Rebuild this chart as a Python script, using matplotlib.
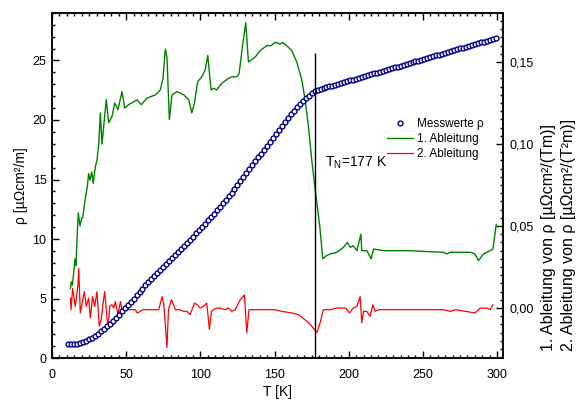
import numpy as np
import matplotlib
matplotlib.use("Agg")
import matplotlib.pyplot as plt
from matplotlib.ticker import MultipleLocator, FuncFormatter

plt.rcParams['font.family'] = ['Liberation Sans', 'DejaVu Sans']
plt.rcParams['mathtext.fontset'] = 'custom'
plt.rcParams['mathtext.rm'] = 'Liberation Sans'

# measured resistivity rho(T), every 2 K
T_rho = np.arange(11, 300, 2)
rho = [
    1.15, 1.16, 1.18, 1.22, 1.28, 1.36, 1.46, 1.58, 1.72, 1.88,
    2.05, 2.24, 2.44, 2.66, 2.90, 3.14, 3.40, 3.66, 3.92, 4.18,
    4.45, 4.72, 5.00, 5.28, 5.56, 5.84, 6.12, 6.40, 6.67, 6.93,
    7.18, 7.43, 7.68, 7.93, 8.18, 8.43, 8.68, 8.93, 9.18, 9.43,
    9.69, 9.95, 10.21, 10.48, 10.75, 11.02, 11.30, 11.58, 11.86, 12.14,
    12.43, 12.72, 13.01, 13.30, 13.60, 13.88, 14.20, 14.53, 14.86, 15.20,
    15.53, 15.86, 16.20, 16.53, 16.86, 17.18, 17.50, 17.83, 18.16, 18.50,
    18.84, 19.18, 19.52, 19.86, 20.18, 20.49, 20.79, 21.08, 21.35, 21.60,
    21.83, 22.04, 22.23, 22.40, 22.52, 22.60, 22.68, 22.75, 22.82, 22.89,
    22.96, 23.04, 23.11, 23.18, 23.25, 23.33, 23.40, 23.47, 23.54, 23.62,
    23.69, 23.76, 23.83, 23.91, 23.98, 24.05, 24.12, 24.20, 24.27, 24.34,
    24.41, 24.49, 24.56, 24.63, 24.70, 24.78, 24.85, 24.92, 24.99, 25.07,
    25.14, 25.21, 25.28, 25.36, 25.43, 25.50, 25.57, 25.65, 25.72, 25.79,
    25.86, 25.94, 26.01, 26.08, 26.15, 26.23, 26.30, 26.37, 26.44, 26.52,
    26.59, 26.66, 26.73, 26.81, 26.88,
]

# first derivative (right axis)
T_d1 = [12.4, 13.0, 13.8, 15.5, 16.2, 17.0, 17.7, 18.9, 20.0, 20.7,
        22.3, 23.8, 24.7, 25.6, 26.8, 27.8, 29.2, 30.3, 31.5, 32.6,
        33.7, 36.6, 38.2, 40.5, 42.3, 44.5, 47.2, 49.0, 51.7, 57.3,
        60.2, 64.0, 69.7, 73.0, 74.8, 76.4, 77.5, 79.1, 80.9, 84.3,
        88.8, 92.2, 94.2, 96.0, 98.2, 101.0, 103.2, 105.0, 107.2, 109.0,
        111.0, 114.4, 118.9, 121.2, 124.5, 126.1, 128.3, 130.6, 132.4, 136.9,
        140.3, 144.8, 147.7, 150.4, 153.7, 155.5, 159.3, 161.6, 165.0, 168.4,
        170.6, 172.8, 175.1, 177.3, 180.7, 182.5, 185.0, 187.5, 192.0, 196.4,
        199.1, 201.0, 203.0, 205.5, 208.2, 208.8, 212.2, 215.1, 216.7, 223.4,
        240.0, 263.9, 266.0, 268.4, 281.9, 285.0, 287.5, 290.8, 295.3, 297.2,
        299.4]
d1 = [0.012, 0.016, 0.014, 0.030, 0.026, 0.045, 0.058, 0.050, 0.055, 0.055,
      0.066, 0.074, 0.082, 0.078, 0.083, 0.076, 0.086, 0.090, 0.100, 0.119,
      0.100, 0.127, 0.113, 0.117, 0.125, 0.121, 0.132, 0.122, 0.124, 0.127,
      0.124, 0.128, 0.130, 0.133, 0.140, 0.158, 0.153, 0.115, 0.130, 0.132,
      0.130, 0.127, 0.119, 0.125, 0.138, 0.141, 0.145, 0.154, 0.133, 0.134,
      0.133, 0.137, 0.140, 0.141, 0.141, 0.143, 0.159, 0.174, 0.150, 0.153,
      0.157, 0.160, 0.160, 0.162, 0.161, 0.162, 0.159, 0.157, 0.150, 0.139,
      0.127, 0.111, 0.090, 0.073, 0.048, 0.030, 0.032, 0.033, 0.034, 0.037,
      0.040, 0.037, 0.038, 0.035, 0.045, 0.035, 0.035, 0.030, 0.036, 0.035,
      0.035, 0.034, 0.033, 0.034, 0.034, 0.033, 0.029, 0.033, 0.035, 0.036,
      0.051]

# second derivative (right axis)
T_d2 = [12.4, 12.8, 13.9, 15.7, 17.5, 18.0, 19.1, 20.7, 21.8, 23.1,
        24.7, 25.8, 27.4, 28.8, 30.3, 31.9, 33.2, 34.3, 35.5, 36.6,
        37.8, 38.9, 40.3, 41.6, 42.7, 44.5, 46.1, 47.2, 49.4, 52.0,
        56.2, 57.5, 59.5, 61.0, 66.0, 71.9, 74.2, 75.5, 77.5, 78.5,
        80.5, 83.2, 86.0, 88.8, 91.0, 93.1, 96.0, 98.0, 99.8, 102.0,
        104.3, 106.1, 107.5, 108.8, 111.0, 113.3, 116.7, 119.0, 121.2, 123.5,
        126.8, 129.7, 131.3, 132.8, 138.0, 145.0, 150.0, 154.9, 161.6, 166.1,
        171.7, 175.1, 178.5, 180.7, 182.9, 187.5, 192.0, 196.4, 198.0, 200.5,
        203.0, 205.5, 207.7, 208.8, 210.0, 212.2, 214.4, 216.3, 217.8, 220.0,
        240.0, 263.9, 268.4, 272.0, 285.2, 288.6, 293.1, 295.3, 297.2]
d2 = [0.006, -0.001, 0.012, 0.001, 0.014, 0.024, -0.003, 0.005, 0.010, 0.001,
      0.006, -0.006, 0.007, 0.001, 0.010, -0.011, -0.007, 0.002, 0.010, -0.001,
      -0.013, 0.001, 0.002, 0.000, 0.004, -0.004, 0.004, -0.001, -0.001, -0.001,
      -0.001, -0.003, -0.002, -0.001, -0.001, -0.001, 0.007, 0.001, -0.024, -0.001,
      0.005, -0.001, -0.001, -0.002, -0.002, -0.004, 0.003, 0.002, 0.000, 0.001,
      0.003, -0.013, -0.002, -0.001, 0.000, 0.000, -0.001, 0.000, -0.002, -0.001,
      0.005, 0.008, -0.015, -0.001, -0.001, -0.001, -0.001, -0.002, -0.003, -0.004,
      -0.008, -0.011, -0.015, -0.009, -0.001, -0.001, 0.000, 0.000, 0.000, -0.003,
      0.000, 0.001, 0.007, -0.009, -0.002, -0.002, -0.005, 0.002, -0.002, -0.001,
      -0.001, -0.001, -0.002, -0.001, -0.003, 0.000, 0.000, -0.001, 0.002]

T_N = 177
T_N_top = 25.6

fig = plt.figure(figsize=(5.79, 4.01), dpi=100)
ax = fig.add_axes([0.0898, 0.107, 0.779, 0.861])
ax2 = ax.twinx()

h_rho, = ax.plot(T_rho, rho, 'o', ms=3.5, mfc='white', mec='#00008B', mew=1.0,
                 label='Messwerte ρ', zorder=3)
h_d1, = ax2.plot(T_d1, d1, color='#008000', lw=1.0, label='1. Ableitung')
h_d2, = ax2.plot(T_d2, d2, color='#FF0000', lw=0.9, label='2. Ableitung')
ax.vlines(T_N, 0, T_N_top, color='black', lw=1.0, zorder=4)
ax.text(184, 16.4, r'$\mathregular{T_N}$=177 K', fontsize=10, va='center', ha='left')

ax.set_zorder(ax2.get_zorder() + 1)
ax.patch.set_visible(False)

ax.set_xlim(0, 304)
ax.set_ylim(0, 29)
ax2.set_ylim(-0.0305, 0.18)

ax.xaxis.set_major_locator(MultipleLocator(50))
ax.xaxis.set_minor_locator(MultipleLocator(5))
ax.yaxis.set_major_locator(MultipleLocator(5))
ax.yaxis.set_minor_locator(MultipleLocator(1))
ax2.yaxis.set_major_locator(MultipleLocator(0.05))
ax2.yaxis.set_minor_locator(MultipleLocator(0.005))
ax2.yaxis.set_major_formatter(FuncFormatter(lambda v, p: f'{v:.2f}'.replace('.', ',')))

ax.tick_params(axis='x', which='both', direction='in', top=True, labelsize=9, pad=8)
ax.tick_params(axis='y', which='both', direction='in', right=False, labelsize=9, pad=4)
ax2.tick_params(axis='y', which='both', direction='in', labelsize=9, pad=5)
for a in (ax, ax2):
    a.tick_params(which='major', length=5, width=1)
    a.tick_params(which='minor', length=2.5, width=1)
    for s in a.spines.values():
        s.set_linewidth(1.1)

ax.set_xlabel('T [K]', fontsize=10, labelpad=3)
ax.set_ylabel('ρ [µΩcm²/m]', fontsize=10, labelpad=3.5)

fig.text(549 / 579, 1 - 351 / 401, '1. Ableitung von ρ [µΩcm²/(Tm)]', rotation=90,
         ha='center', va='bottom', fontsize=11.5)
fig.text(568 / 579, 1 - 351 / 401, '2. Ableitung von ρ [µΩcm²/(T²m)]', rotation=90,
         ha='center', va='bottom', fontsize=11.5)

ax.legend(handles=[h_rho, h_d1, h_d2], loc='upper left', bbox_to_anchor=(0.725, 0.72),
          frameon=False, fontsize=8.5, handlelength=2.2, handletextpad=0.3,
          labelspacing=0.25, borderpad=0.2)

fig.savefig('out.png', dpi=100)
